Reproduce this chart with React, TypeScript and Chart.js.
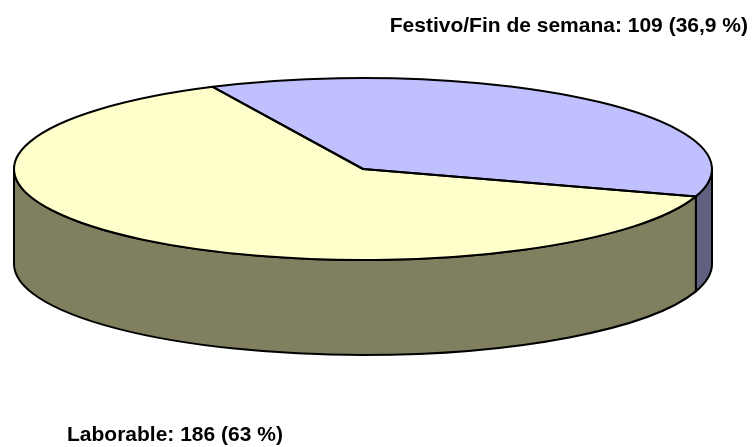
import React, { useEffect, useRef } from "react";
import { Chart, registerables } from "chart.js";

Chart.register(...registerables);

const categories = ["Festivo/Fin de semana", "Laborable"];
const values = [109, 186];
const percentLabels = ["36,9 %", "63 %"];

const topColors = ["#C0C0FF", "#FFFFCC"];
const sideColors = ["#606080", "#808060"];

const W = 754;
const H = 447;
const CX = 363;
const CY = 169;
const R = 150;
const RX = 349;
const RY = 91;
const DEPTH = 95;

const pie3d = {
  id: "pie3d",
  beforeDatasetsDraw(chart: any) {
    const ctx = chart.ctx as CanvasRenderingContext2D;
    const meta = chart.getDatasetMeta(0);
    const arc0 = meta.data[0];
    const cx = arc0.x;
    const cy = arc0.y;
    const r = arc0.outerRadius;
    ctx.save();
    ctx.lineWidth = 2;
    ctx.strokeStyle = "#000";
    ctx.lineJoin = "round";
    meta.data.forEach((arc: any, i: number) => {
      const s = arc.startAngle;
      const e = arc.endAngle;
      for (let k = -2; k <= 2; k++) {
        const lo = Math.max(s, 2 * Math.PI * k);
        const hi = Math.min(e, 2 * Math.PI * k + Math.PI);
        if (hi - lo > 1e-6) {
          ctx.beginPath();
          ctx.ellipse(cx, cy, RX, RY, 0, lo, hi, false);
          ctx.ellipse(cx, cy + DEPTH, RX, RY, 0, hi, lo, true);
          ctx.closePath();
          ctx.fillStyle = sideColors[i];
          ctx.fill();
          ctx.stroke();
        }
      }
    });
    ctx.restore();
    ctx.save();
    ctx.translate(cx, cy);
    ctx.scale(RX / r, RY / r);
    ctx.translate(-cx, -cy);
  },
  afterDatasetsDraw(chart: any) {
    const ctx = chart.ctx as CanvasRenderingContext2D;
    ctx.restore();
    const meta = chart.getDatasetMeta(0);
    ctx.save();
    ctx.lineWidth = 2;
    ctx.strokeStyle = "#000";
    ctx.lineJoin = "round";
    meta.data.forEach((arc: any) => {
      const cx = arc.x;
      const cy = arc.y;
      ctx.beginPath();
      ctx.moveTo(cx, cy);
      ctx.ellipse(cx, cy, RX, RY, 0, arc.startAngle, arc.endAngle, false);
      ctx.closePath();
      ctx.stroke();
    });
    ctx.restore();
  },
  afterDraw(chart: any) {
    const ctx = chart.ctx as CanvasRenderingContext2D;
    ctx.save();
    ctx.fillStyle = "#000";
    ctx.font = "bold 21px 'Liberation Sans', Arial, sans-serif";
    ctx.textBaseline = "alphabetic";
    ctx.textAlign = "right";
    ctx.fillText(`${categories[0]}: ${values[0]} (${percentLabels[0]})`, 748, 32);
    ctx.textAlign = "left";
    ctx.fillText(`${categories[1]}: ${values[1]} (${percentLabels[1]})`, 67, 441);
    ctx.restore();
  },
};

export default function App() {
  const ref = useRef<HTMLCanvasElement | null>(null);
  useEffect(() => {
    if (!ref.current) return;
    const chart = new Chart(ref.current, {
      type: "pie",
      data: {
        labels: categories,
        datasets: [
          {
            data: values,
            backgroundColor: topColors,
            borderWidth: 0,
            clip: false as any,
          },
        ],
      },
      options: {
        responsive: false,
        animation: false,
        events: [],
        rotation: -25.5,
        layout: {
          padding: {
            left: CX - R,
            right: W - CX - R,
            top: CY - R,
            bottom: H - CY - R,
          },
        },
        plugins: {
          legend: { display: false },
          title: { display: false },
          tooltip: { enabled: false },
        },
      },
      plugins: [pie3d],
    });
    return () => chart.destroy();
  }, []);
  return (
    <div style={{ position: "fixed", left: 0, top: 0, width: W, height: H, background: "#fff" }}>
      <canvas ref={ref} width={W} height={H} style={{ display: "block" }} />
    </div>
  );
}
